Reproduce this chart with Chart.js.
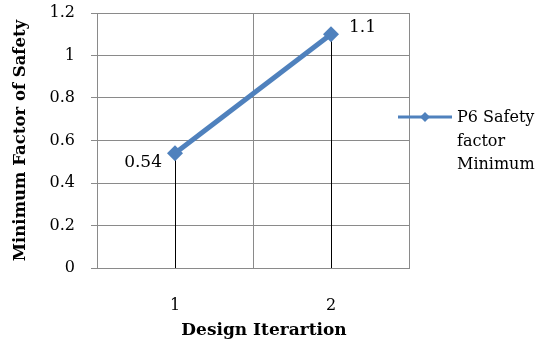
<!DOCTYPE html>
<html>
<head>
<meta charset="utf-8">
<script src="https://cdn.jsdelivr.net/npm/chart.js@4/dist/chart.umd.min.js"></script>
<style>
  html, body { margin: 0; padding: 0; background: #fff; }
  #wrap { width: 547px; height: 342px; position: relative; }
</style>
</head>
<body>
<div id="wrap"><canvas id="c" width="547" height="342"></canvas></div>
<script>
// Design iterations and the minimum safety factor reached in each
const iterations = ['1', '2'];
const safetyFactorMin = [0.54, 1.1];
const seriesName = ['P6 Safety', 'factor', 'Minimum'];
const yTicks = [0, 0.2, 0.4, 0.6, 0.8, 1, 1.2];
const xTitle = 'Design Iterartion';

const blue = '#4F81BD';
const grid = '#8a8a8a';
const serif = '"DejaVu Serif", serif';

// vertical drop lines from each point to the x axis, plus value labels
const dropLines = {
  id: 'dropLines',
  beforeDatasetsDraw(chart) {
    const { ctx } = chart;
    const x = chart.scales.x, y = chart.scales.y;
    ctx.save();
    ctx.strokeStyle = '#000';
    ctx.lineWidth = 1;
    safetyFactorMin.forEach((v, i) => {
      const px = Math.round(x.getPixelForValue(i)) + 0.5;
      ctx.beginPath();
      ctx.moveTo(px, y.getPixelForValue(v));
      ctx.lineTo(px, y.getPixelForValue(0));
      ctx.stroke();
    });
    ctx.restore();
  },
  afterDatasetsDraw(chart) {
    const { ctx } = chart;
    const x = chart.scales.x, y = chart.scales.y;
    ctx.save();
    ctx.fillStyle = '#000';
    ctx.font = '17px ' + serif;
    ctx.textBaseline = 'middle';
    // first label sits to the lower left, second to the upper right
    const offs = [[-13, 9, 'right'], [18, -7, 'left']];
    safetyFactorMin.forEach((v, i) => {
      const px = x.getPixelForValue(i), py = y.getPixelForValue(v);
      ctx.textAlign = offs[i][2];
      ctx.fillText(String(v), px + offs[i][0], py + offs[i][1]);
    });
    ctx.restore();
  }
};

// x axis title, set a little right of the plot centre
const xAxisTitle = {
  id: 'xAxisTitle',
  afterDraw(chart) {
    const { ctx } = chart;
    const area = chart.chartArea;
    ctx.save();
    ctx.fillStyle = '#000';
    ctx.font = 'bold 17px ' + serif;
    ctx.textAlign = 'center';
    ctx.textBaseline = 'middle';
    ctx.fillText(xTitle, (area.left + area.right) / 2 + 11, 331);
    ctx.restore();
  }
};

// legend on the right with the series name wrapped over three lines
const sideLegend = {
  id: 'sideLegend',
  afterDraw(chart) {
    const { ctx } = chart;
    const area = chart.chartArea;
    const x0 = area.right - 11, x1 = x0 + 54, yc = 117;
    ctx.save();
    ctx.strokeStyle = blue;
    ctx.lineWidth = 3;
    ctx.beginPath();
    ctx.moveTo(x0, yc);
    ctx.lineTo(x1, yc);
    ctx.stroke();
    const cx = (x0 + x1) / 2, r = 5;
    ctx.fillStyle = blue;
    ctx.beginPath();
    ctx.moveTo(cx, yc - r); ctx.lineTo(cx + r, yc); ctx.lineTo(cx, yc + r); ctx.lineTo(cx - r, yc);
    ctx.closePath();
    ctx.fill();
    ctx.fillStyle = '#000';
    ctx.font = '16px ' + serif;
    ctx.textAlign = 'left';
    ctx.textBaseline = 'middle';
    seriesName.forEach((t, i) => ctx.fillText(t, x1 + 5, yc + 1 + i * 23.5));
    ctx.restore();
  }
};

new Chart(document.getElementById('c'), {
  type: 'line',
  data: {
    labels: iterations,
    datasets: [{
      label: seriesName.join(' '),
      data: safetyFactorMin,
      borderColor: blue,
      backgroundColor: blue,
      borderWidth: 5,
      pointStyle: 'rectRot',
      pointRadius: 8,
      pointHoverRadius: 8,
      pointBorderWidth: 0,
      tension: 0
    }]
  },
  options: {
    responsive: false,
    animation: false,
    events: [],
    layout: { padding: { top: 13, right: 138, left: 0, bottom: 0 } },
    plugins: { legend: { display: false }, tooltip: { enabled: false } },
    scales: {
      x: {
        offset: true,
        grid: { offset: true, color: grid, drawTicks: false },
        border: { color: grid },
        ticks: { color: '#000', font: { family: serif, size: 16 }, padding: 28 },
        afterFit(s) { s.height = 74; }
      },
      y: {
        min: 0, max: 1.2,
        afterBuildTicks(s) { s.ticks = yTicks.map(v => ({ value: v })); },
        grid: { color: grid, tickLength: 6 },
        border: { color: grid },
        ticks: { color: '#000', font: { family: serif, size: 16 }, padding: 16, callback: v => String(v) },
        title: { display: true, text: 'Minimum Factor of Safety', color: '#000', font: { family: serif, size: 16.5, weight: 'bold' }, padding: { top: 11, bottom: 4 } },
        afterFit(s) { s.width = 97; s.paddingTop = 0; s.paddingBottom = 0; }
      }
    }
  },
  plugins: [dropLines, xAxisTitle, sideLegend]
});
</script>
</body>
</html>
